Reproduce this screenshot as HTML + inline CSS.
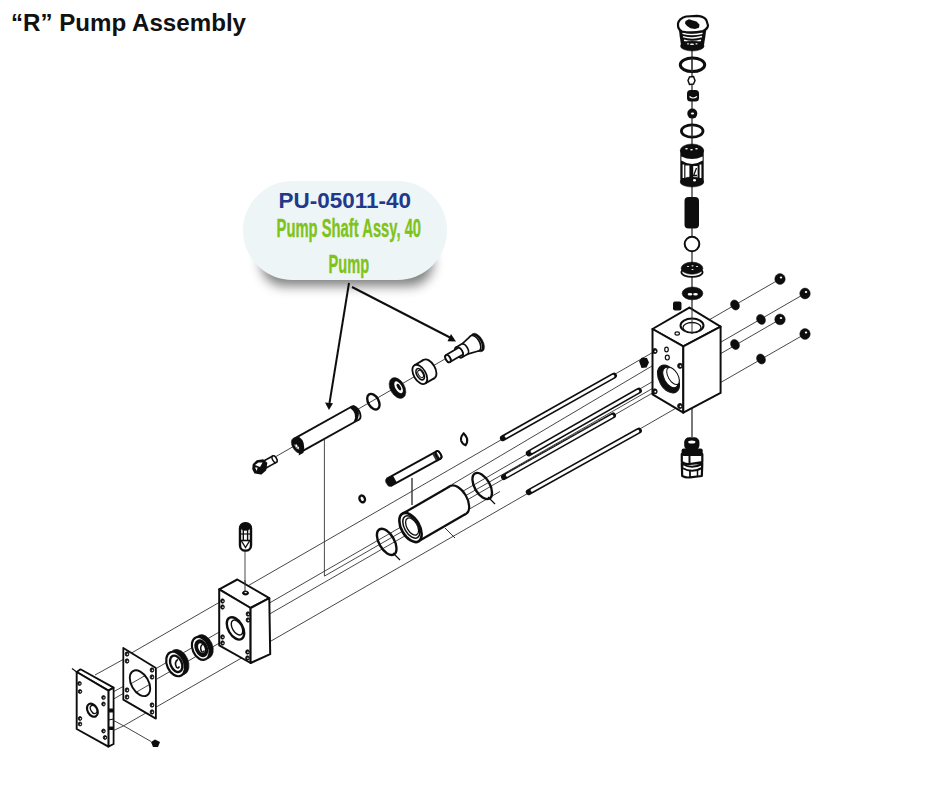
<!DOCTYPE html>
<html><head><meta charset="utf-8"><title>R Pump Assembly</title>
<style>html,body{margin:0;padding:0;background:#fff;}body{width:940px;height:788px;overflow:hidden;}svg{display:block;}</style>
</head><body>
<svg width="940" height="788" viewBox="0 0 940 788">
<defs><filter id="sh" x="-20%" y="-20%" width="140%" height="160%"><feGaussianBlur stdDeviation="6"/></filter><filter id="soft" x="0" y="0" width="100%" height="100%" filterUnits="userSpaceOnUse"><feGaussianBlur stdDeviation="0.35"/></filter></defs>
<rect width="940" height="788" fill="#fff"/>
<text x="11" y="31" font-family="Liberation Sans, sans-serif" font-weight="bold" font-size="23.5" fill="#111" textLength="235" lengthAdjust="spacingAndGlyphs">“R” Pump Assembly</text>
<g filter="url(#soft)">
<line x1="128" y1="655" x2="780" y2="279" stroke="#333" stroke-width="0.9" />
<line x1="157" y1="668" x2="805" y2="293.5" stroke="#333" stroke-width="0.9" />
<line x1="157" y1="679" x2="780" y2="319.4" stroke="#333" stroke-width="0.9" />
<line x1="123.6" y1="725.8" x2="805" y2="334" stroke="#333" stroke-width="0.9" />
<line x1="324.3" y1="576.2" x2="410" y2="527" stroke="#333" stroke-width="0.9" />
<line x1="458" y1="500" x2="669" y2="379" stroke="#333" stroke-width="0.9" />
<line x1="452" y1="484.5" x2="652" y2="366" stroke="#333" stroke-width="0.9" />
<line x1="466" y1="511" x2="500" y2="491.5" stroke="#333" stroke-width="0.9" />
<line x1="113" y1="692" x2="124" y2="686" stroke="#333" stroke-width="0.9" />
<line x1="113" y1="699.4" x2="124" y2="693" stroke="#333" stroke-width="0.9" />
<line x1="95" y1="675" x2="124" y2="659" stroke="#333" stroke-width="0.9" />
<line x1="263" y1="464" x2="464" y2="348" stroke="#333" stroke-width="0.9" />
<line x1="692" y1="45" x2="692" y2="437" stroke="#222" stroke-width="1.2" />
<line x1="324.4" y1="439.5" x2="324.4" y2="576" stroke="#333" stroke-width="0.9" />
<line x1="412" y1="478" x2="412" y2="505" stroke="#333" stroke-width="0.9" />
<line x1="245" y1="550" x2="245" y2="592" stroke="#333" stroke-width="0.9" />
</g>
<rect x="261" y="240" width="172" height="46" rx="23" fill="#000" opacity="0.5" filter="url(#sh)"/>
<rect x="243" y="181" width="204" height="99" rx="49.5" fill="#edf5f7"/>
<text x="278.6" y="208.3" font-family="Liberation Sans, sans-serif" font-weight="bold" font-size="22" fill="#22388a" textLength="132.3" lengthAdjust="spacingAndGlyphs">PU-05011-40</text>
<text x="276.6" y="236.8" font-family="Liberation Sans, sans-serif" font-weight="bold" font-size="26.5" fill="#7fc31a" stroke="#7fc31a" stroke-width="0.35" textLength="144.5" lengthAdjust="spacingAndGlyphs">Pump Shaft Assy, 40</text>
<text x="328.6" y="273" font-family="Liberation Sans, sans-serif" font-weight="bold" font-size="26.5" fill="#7fc31a" stroke="#7fc31a" stroke-width="0.35" textLength="40.6" lengthAdjust="spacingAndGlyphs">Pump</text>
<g filter="url(#soft)">
<g stroke="#111" stroke-width="2" fill="#111">
<line x1="349" y1="283" x2="329.5" y2="403"/>
<polygon points="329,410 325,402.5 333,403.2" stroke="none"/>
<line x1="352" y1="287" x2="450" y2="337.5"/>
<polygon points="456,341.5 447.5,341.3 451,334" stroke="none"/>
</g>
<ellipse cx="780" cy="279" rx="5.2" ry="5.4" fill="#111" stroke="#111" stroke-width="0.5" />
<ellipse cx="781" cy="277.5" rx="1.2" ry="1" fill="#fff" stroke="none" stroke-width="0" />
<ellipse cx="805" cy="293.5" rx="5.2" ry="5.4" fill="#111" stroke="#111" stroke-width="0.5" />
<ellipse cx="806" cy="292" rx="1.2" ry="1" fill="#fff" stroke="none" stroke-width="0" />
<ellipse cx="780" cy="319.4" rx="5.2" ry="5.4" fill="#111" stroke="#111" stroke-width="0.5" />
<ellipse cx="781" cy="317.9" rx="1.2" ry="1" fill="#fff" stroke="none" stroke-width="0" />
<ellipse cx="805" cy="334" rx="5.2" ry="5.4" fill="#111" stroke="#111" stroke-width="0.5" />
<ellipse cx="806" cy="332.5" rx="1.2" ry="1" fill="#fff" stroke="none" stroke-width="0" />
<ellipse cx="735" cy="305" rx="4.2" ry="5.2" fill="#111" stroke="#111" stroke-width="0.5" transform="rotate(-30 735 305)" />
<ellipse cx="761" cy="319.4" rx="4.2" ry="5.2" fill="#111" stroke="#111" stroke-width="0.5" transform="rotate(-30 761 319.4)" />
<ellipse cx="735" cy="344.5" rx="4.2" ry="5.2" fill="#111" stroke="#111" stroke-width="0.5" transform="rotate(-30 735 344.5)" />
<ellipse cx="761" cy="359" rx="4.2" ry="5.2" fill="#111" stroke="#111" stroke-width="0.5" transform="rotate(-30 761 359)" />
<polygon points="639,361 642,357.5 647,358 649,362.5 646.5,367.5 641.5,368 " fill="#111"/>
<polygon points="689.4,307.6 652.5,329 683.3,346.4 720.6,326.6" fill="#fff" stroke="#111" stroke-width="2" stroke-linejoin="round" />
<polygon points="652.5,329 683.3,346.4 683.3,412.7 652.5,394.4" fill="#fff" stroke="#111" stroke-width="2" stroke-linejoin="round" />
<polygon points="683.3,346.4 720.6,326.6 720.6,392.9 683.3,412.7" fill="#fff" stroke="#111" stroke-width="2" stroke-linejoin="round" />
<ellipse cx="692" cy="325.5" rx="11.5" ry="7" fill="#fff" stroke="#111" stroke-width="2" />
<ellipse cx="692" cy="327.5" rx="9" ry="5" fill="#fff" stroke="#111" stroke-width="1.3" />
<line x1="692" y1="308" x2="692" y2="334" stroke="#333" stroke-width="1" />
<ellipse cx="677.2" cy="333.5" rx="2.2" ry="1.6" fill="#fff" stroke="#111" stroke-width="1.2" />
<ellipse cx="668.5" cy="379" rx="9.3" ry="15.2" fill="#111" stroke="#111" stroke-width="1" transform="rotate(-30 668.5 379)" />
<ellipse cx="670.5" cy="377.5" rx="6.3" ry="11.2" fill="#fff" stroke="#111" stroke-width="1" transform="rotate(-30 670.5 377.5)" />
<ellipse cx="673" cy="376" rx="4.8" ry="9.5" fill="#fff" stroke="#111" stroke-width="1" transform="rotate(-30 673 376)" />
<ellipse cx="654.8" cy="351" rx="2.4" ry="2.6" fill="#111" stroke="#111" stroke-width="0.8" />
<ellipse cx="655.3" cy="351.3" rx="0.9" ry="0.9" fill="#fff" stroke="none" stroke-width="0" />
<ellipse cx="680" cy="365.8" rx="2.4" ry="2.6" fill="#111" stroke="#111" stroke-width="0.8" />
<ellipse cx="680.5" cy="366.1" rx="0.9" ry="0.9" fill="#fff" stroke="none" stroke-width="0" />
<ellipse cx="654.8" cy="391.4" rx="2.4" ry="2.6" fill="#111" stroke="#111" stroke-width="0.8" />
<ellipse cx="655.3" cy="391.7" rx="0.9" ry="0.9" fill="#fff" stroke="none" stroke-width="0" />
<ellipse cx="680" cy="406" rx="2.4" ry="2.6" fill="#111" stroke="#111" stroke-width="0.8" />
<ellipse cx="680.5" cy="406.3" rx="0.9" ry="0.9" fill="#fff" stroke="none" stroke-width="0" />
<ellipse cx="666.5" cy="349.5" rx="1.8" ry="2.4" fill="#fff" stroke="#111" stroke-width="1.2" />
<ellipse cx="667.3" cy="357.6" rx="2" ry="2.4" fill="#fff" stroke="#111" stroke-width="1.2" />
<path d="M681.8,463.5 L682.2,476 Q686,478 690,477.3 L701.8,476 L702.3,463.5 Z" fill="#fff" stroke="#111" stroke-width="2.2" stroke-linejoin="round"/>
<line x1="690" y1="469.5" x2="690" y2="477" stroke="#111" stroke-width="1.8" />
<line x1="697.5" y1="469.5" x2="697.5" y2="476.5" stroke="#111" stroke-width="1.5" />
<path d="M682.3,464 Q692,469.5 702,464 L702,468 Q692,473.5 682.3,468 Z" fill="#fff" stroke="#111" stroke-width="2"/>
<path d="M681.8,454 L681.8,462 Q686,464.8 689.5,464 L702.3,462 L702.3,454 Z" fill="#fff" stroke="#111" stroke-width="2.2" stroke-linejoin="round"/>
<line x1="689.5" y1="455" x2="689.5" y2="463.5" stroke="#111" stroke-width="2" />
<rect x="684.2" y="437.3" width="15.2" height="13" rx="5" fill="#111"/>
<rect x="681.6" y="448.5" width="21.1" height="7.5" rx="2" fill="#111"/>
<ellipse cx="691.8" cy="442" rx="3.6" ry="1.5" fill="#fff" stroke="none" stroke-width="0" />
<path d="M678.5,26 Q679.5,36 681,45 L704,45 Q705.5,36 706.8,26 Z" fill="#111"/>
<path d="M682.5,33.2 Q692,35.800000000000004 702.5,33.2" fill="none" stroke="#fff" stroke-width="1.5"/>
<path d="M683,36.6 Q692,39.2 702,36.6" fill="none" stroke="#fff" stroke-width="1.5"/>
<path d="M684,40.2 Q692,42.800000000000004 701,40.2" fill="none" stroke="#fff" stroke-width="1.5"/>
<path d="M678,23.5 Q679,18.5 686,16.5 L697,15.8 Q705,16.5 706.5,20.5 L708,25.5 Q707.5,29 703,31 Q692,33.5 682,31.5 Q677.5,29.5 678,23.5 Z" fill="#fff" stroke="#111" stroke-width="2.2" stroke-linejoin="round"/>
<path d="M685.5,21 L689,19.3 L693,20.5 L696.5,21.5 L699.5,24.5 L699,27.8 L695,29 L690.5,28.3 L687,26 L685,23.5 Z" fill="#111"/>
<ellipse cx="692.3" cy="46" rx="11.8" ry="5" fill="#111" stroke="#111" stroke-width="0.5" />
<ellipse cx="692" cy="44.2" rx="2.2" ry="0.8" fill="#fff" stroke="none" stroke-width="0" />
<ellipse cx="688" cy="43.8" rx="1.2" ry="0.6" fill="#fff" stroke="none" stroke-width="0" />
<ellipse cx="696.5" cy="43.8" rx="1.2" ry="0.6" fill="#fff" stroke="none" stroke-width="0" />
<ellipse cx="692.5" cy="64.8" rx="12.2" ry="6.8" fill="none" stroke="#111" stroke-width="3" />
<line x1="692" y1="58" x2="692" y2="72" stroke="#333" stroke-width="1" />
<polygon points="688,80.5 689.5,77 693.5,76.5 695,80.5 693.5,84 689.5,84.5" fill="#fff" stroke="#111" stroke-width="1.5"/>
<rect x="687" y="90" width="12" height="11.5" rx="3.5" fill="#111"/>
<path d="M689.5,96.5 Q693,99.5 697,96.5" fill="none" stroke="#fff" stroke-width="1.2"/>
<circle cx="692.3" cy="113.6" r="5" fill="#111"/>
<ellipse cx="692.5" cy="113.5" rx="1.6" ry="1.1" fill="#fff" stroke="none" stroke-width="0" />
<ellipse cx="692.2" cy="131" rx="10.8" ry="6.2" fill="none" stroke="#111" stroke-width="2.8" />
<line x1="692" y1="125" x2="692" y2="137" stroke="#333" stroke-width="1" />
<rect x="680.3" y="150" width="23.4" height="32" fill="#111"/>
<ellipse cx="692" cy="150.5" rx="11.7" ry="6.5" fill="#111" stroke="#111" stroke-width="0.5" />
<path d="M681.4,156.5 Q692,161.5 702.6,156.5 L702.6,160.5 Q692,167.5 681.4,160.5 Z" fill="#fff"/>
<rect x="682.6" y="164.5" width="1.6" height="13.5" fill="#fff"/>
<rect x="685.4" y="165.5" width="4.0" height="15.5" fill="#fff"/>
<rect x="693.2" y="166" width="4.4" height="15.0" fill="#fff"/>
<rect x="699.6" y="164.5" width="1.8" height="13.5" fill="#fff"/>
<path d="M696.5,168 L693.6,175.5 L697,175.5" fill="none" stroke="#111" stroke-width="1.3"/>
<ellipse cx="692" cy="182" rx="11.8" ry="5" fill="#111" stroke="#111" stroke-width="0.5" />
<ellipse cx="694.5" cy="180.3" rx="1.5" ry="1.2" fill="#fff" stroke="none" stroke-width="0" />
<ellipse cx="686.5" cy="148.8" rx="1.3" ry="0.7" fill="#fff" stroke="none" stroke-width="0" />
<ellipse cx="691.5" cy="149.8" rx="1.3" ry="0.7" fill="#fff" stroke="none" stroke-width="0" />
<ellipse cx="696.5" cy="148.8" rx="1.3" ry="0.7" fill="#fff" stroke="none" stroke-width="0" />
<rect x="684.5" y="197" width="14.5" height="31.5" rx="4" fill="#111"/>
<circle cx="692" cy="244" r="7.3" fill="#fff" stroke="#111" stroke-width="2"/>
<ellipse cx="692" cy="272.3" rx="10.6" ry="4.6" fill="#fff" stroke="#111" stroke-width="1.8" />
<ellipse cx="692" cy="268.2" rx="10.9" ry="6.1" fill="#111" stroke="#111" stroke-width="0.5" />
<ellipse cx="688" cy="266.5" rx="1.1" ry="0.6" fill="#fff" stroke="none" stroke-width="0" />
<ellipse cx="692.5" cy="265.8" rx="1.1" ry="0.6" fill="#fff" stroke="none" stroke-width="0" />
<ellipse cx="697" cy="266.5" rx="1.1" ry="0.6" fill="#fff" stroke="none" stroke-width="0" />
<ellipse cx="692.5" cy="269.5" rx="1.1" ry="0.6" fill="#fff" stroke="none" stroke-width="0" />
<ellipse cx="692.5" cy="293.4" rx="10.4" ry="6.4" fill="#111" stroke="#111" stroke-width="0.5" />
<ellipse cx="690" cy="294.3" rx="2.3" ry="1.3" fill="#fff" stroke="none" stroke-width="0" />
<ellipse cx="695.5" cy="294.3" rx="2.3" ry="1.3" fill="#fff" stroke="none" stroke-width="0" />
<rect x="673" y="301.5" width="8.5" height="9" rx="2" fill="#111"/>
<line x1="502.9" y1="438.2" x2="614" y2="375.6" stroke="#111" stroke-width="6" stroke-linecap="round"/>
<line x1="506.09999999999997" y1="436.4" x2="613" y2="376.20000000000005" stroke="#fff" stroke-width="2.8" stroke-linecap="round"/>
<line x1="528.8" y1="453.3" x2="638.9" y2="390.7" stroke="#111" stroke-width="6" stroke-linecap="round"/>
<line x1="532.0" y1="451.5" x2="637.9" y2="391.3" stroke="#fff" stroke-width="2.8" stroke-linecap="round"/>
<line x1="504" y1="477" x2="613" y2="415.5" stroke="#111" stroke-width="6" stroke-linecap="round"/>
<line x1="507.2" y1="475.2" x2="612" y2="416.1" stroke="#fff" stroke-width="2.8" stroke-linecap="round"/>
<line x1="528.8" y1="492.1" x2="638.9" y2="430.6" stroke="#111" stroke-width="6" stroke-linecap="round"/>
<line x1="532.0" y1="490.3" x2="637.9" y2="431.20000000000005" stroke="#fff" stroke-width="2.8" stroke-linecap="round"/>
<line x1="508" y1="472" x2="604" y2="418" stroke="#444" stroke-width="1.3" stroke-dasharray="1.5 1.2"/>
<ellipse cx="274.5" cy="459.2" rx="2" ry="3.6" fill="#fff" stroke="#111" stroke-width="1.6" transform="rotate(-28.7 274.5 459.2)" />
<polygon points="264.7,468.7 276.2,462.4 272.8,456 261.3,462.3" fill="#fff" stroke="none" stroke-width="0" stroke-linejoin="round" />
<line x1="264.7" y1="468.7" x2="276.2" y2="462.4" stroke="#111" stroke-width="1.6" />
<line x1="272.8" y1="456" x2="261.3" y2="462.3" stroke="#111" stroke-width="1.6" />
<ellipse cx="263" cy="465.5" rx="2" ry="3.6" fill="#fff" stroke="#111" stroke-width="1.6" transform="rotate(-28.7 263 465.5)" />
<ellipse cx="274.5" cy="459.2" rx="2" ry="3.6" fill="#fff" stroke="#111" stroke-width="1.4" transform="rotate(-29 274.5 459.2)" />
<polygon points="253.5,464.5 257,461 263,460 266.5,463 265.5,470 261,473.8 255,472.8 253,469" fill="#111" stroke="#111" stroke-width="1.6" stroke-linejoin="round"/>
<path d="M255,465 L258.5,462.5 L262.5,462.5 L260,467 Z" fill="#fff"/>
<path d="M255,467.5 L257.5,467.5 L256.8,471 Z" fill="#fff"/>
<ellipse cx="355.5" cy="413" rx="4.1" ry="7.4" fill="#fff" stroke="#111" stroke-width="1.9" transform="rotate(-29.1 355.5 413)" />
<polygon points="300.6,452.1 359.1,419.5 351.9,406.5 293.4,439.1" fill="#fff" stroke="none" stroke-width="0" stroke-linejoin="round" />
<line x1="300.6" y1="452.1" x2="359.1" y2="419.5" stroke="#111" stroke-width="1.9" />
<line x1="351.9" y1="406.5" x2="293.4" y2="439.1" stroke="#111" stroke-width="1.9" />
<ellipse cx="297" cy="445.6" rx="4.6" ry="8.2" fill="#111" stroke="#111" stroke-width="0.5" transform="rotate(-29.1 297 445.6)" />
<ellipse cx="296.4" cy="445.8" rx="1" ry="1.6" fill="#fff" stroke="none" stroke-width="0" transform="rotate(-29.1 296.4 445.8)" />
<ellipse cx="298.2" cy="447.8" rx="0.9" ry="1.2" fill="#fff" stroke="none" stroke-width="0" transform="rotate(-29.1 298.2 447.8)" />
<path d="M294.5,444.6 Q296,449.6 299.5,449.1" fill="none" stroke="#bbb" stroke-width="0.8"/>
<path d="M293.6,439.4 L298.7,436.6 Q306.5,442 303.3,452.9 L298.6,455.5 Q302,446 293.6,439.4 Z" fill="#111"/>
<path d="M349.5,407.5 L353.5,405.3 Q362,410 357.2,420.2 L353.4,422.4 Q358.5,414 349.5,407.5 Z" fill="#111"/>
<ellipse cx="373.4" cy="401.7" rx="5.2" ry="8.5" fill="none" stroke="#111" stroke-width="2.4" transform="rotate(-30 373.4 401.7)" />
<ellipse cx="397.5" cy="388" rx="7.2" ry="11.2" fill="#111" stroke="#111" stroke-width="0.5" transform="rotate(-30 397.5 388)" />
<ellipse cx="398.6" cy="387.3" rx="3.2" ry="6.6" fill="#fff" stroke="none" stroke-width="0" transform="rotate(-30 398.6 387.3)" />
<ellipse cx="398.9" cy="387.1" rx="1.6" ry="3.6" fill="#111" stroke="none" stroke-width="0" transform="rotate(-30 398.9 387.1)" />
<ellipse cx="429" cy="369" rx="6" ry="10.6" fill="#fff" stroke="#111" stroke-width="1.8" transform="rotate(-30.4 429 369)" />
<polygon points="425.2,383.5 434.4,378.1 423.6,359.9 414.4,365.3" fill="#fff" stroke="none" stroke-width="0" stroke-linejoin="round" />
<line x1="425.2" y1="383.5" x2="434.4" y2="378.1" stroke="#111" stroke-width="1.8" />
<line x1="423.6" y1="359.9" x2="414.4" y2="365.3" stroke="#111" stroke-width="1.8" />
<ellipse cx="419.8" cy="374.4" rx="6" ry="10.6" fill="#fff" stroke="#111" stroke-width="1.8" transform="rotate(-30.4 419.8 374.4)" />
<ellipse cx="420.2" cy="374.2" rx="3.4" ry="6.2" fill="#fff" stroke="#111" stroke-width="1.6" transform="rotate(-30.4 420.2 374.2)" />
<ellipse cx="420.6" cy="374" rx="2.2" ry="4" fill="none" stroke="#111" stroke-width="1.0" transform="rotate(-30.4 420.6 374)" />
<ellipse cx="477.5" cy="342.5" rx="5.5" ry="10.2" fill="#111" stroke="#111" stroke-width="0.5" transform="rotate(-30 477.5 342.5)" />
<ellipse cx="476.5" cy="343" rx="4.2" ry="8.2" fill="#fff" stroke="none" stroke-width="0" transform="rotate(-30 476.5 343)" />
<ellipse cx="475" cy="343.3" rx="4.7" ry="8.6" fill="#fff" stroke="#111" stroke-width="1.7" transform="rotate(-29.4 475 343.3)" />
<polygon points="466.7,354.4 479.2,350.8 470.8,335.8 461.3,344.6" fill="#fff" stroke="none" stroke-width="0" stroke-linejoin="round" />
<line x1="466.7" y1="354.4" x2="479.2" y2="350.8" stroke="#111" stroke-width="1.7" />
<line x1="470.8" y1="335.8" x2="461.3" y2="344.6" stroke="#111" stroke-width="1.7" />
<ellipse cx="464.5" cy="349.2" rx="3.2" ry="5.8" fill="#fff" stroke="#111" stroke-width="1.7" transform="rotate(-29.4 464.5 349.2)" />
<polygon points="461.8,357.4 467.3,354.3 461.7,344.1 456.2,347.2" fill="#fff" stroke="none" stroke-width="0" stroke-linejoin="round" />
<line x1="461.8" y1="357.4" x2="467.3" y2="354.3" stroke="#111" stroke-width="1.7" />
<line x1="461.7" y1="344.1" x2="456.2" y2="347.2" stroke="#111" stroke-width="1.7" />
<ellipse cx="459" cy="352.3" rx="3.2" ry="5.8" fill="#fff" stroke="#111" stroke-width="1.7" transform="rotate(-29.4 459 352.3)" />
<ellipse cx="459" cy="352.3" rx="3.2" ry="5.8" fill="#fff" stroke="#111" stroke-width="1.7" transform="rotate(-30 459 352.3)" />
<ellipse cx="460" cy="351.6" rx="2.2" ry="4" fill="#fff" stroke="#111" stroke-width="1.7" transform="rotate(-30.3 460 351.6)" />
<polygon points="450,362.1 462,355.1 458,348.1 446,355.1" fill="#fff" stroke="none" stroke-width="0" stroke-linejoin="round" />
<line x1="450" y1="362.1" x2="462" y2="355.1" stroke="#111" stroke-width="1.7" />
<line x1="458" y1="348.1" x2="446" y2="355.1" stroke="#111" stroke-width="1.7" />
<ellipse cx="448" cy="358.6" rx="2.2" ry="4" fill="#fff" stroke="#111" stroke-width="1.7" transform="rotate(-30.3 448 358.6)" />
<ellipse cx="448" cy="358.6" rx="2.2" ry="4" fill="#fff" stroke="#111" stroke-width="1.8" transform="rotate(-30 448 358.6)" />
<ellipse cx="438.5" cy="455" rx="2.3" ry="4.2" fill="#fff" stroke="#111" stroke-width="1.9" transform="rotate(-28.8 438.5 455)" />
<polygon points="390.5,486.2 440.5,458.7 436.5,451.3 386.5,478.8" fill="#fff" stroke="none" stroke-width="0" stroke-linejoin="round" />
<line x1="390.5" y1="486.2" x2="440.5" y2="458.7" stroke="#111" stroke-width="1.9" />
<line x1="436.5" y1="451.3" x2="386.5" y2="478.8" stroke="#111" stroke-width="1.9" />
<ellipse cx="388.5" cy="482.5" rx="2.3" ry="4.2" fill="#111" stroke="#111" stroke-width="0.5" transform="rotate(-28.8 388.5 482.5)" />
<path d="M386.2,478.8 L392.8,475.2 L396.8,482.5 L390.3,486.2 Z" fill="#111"/>
<path d="M432.5,454.5 L436.5,452.3 L440.5,459.5 L436.5,461.7 Z" fill="#111" opacity="0.85"/>
<ellipse cx="438.5" cy="455" rx="2.3" ry="4.2" fill="none" stroke="#111" stroke-width="1.8" transform="rotate(-29 438.5 455)" />
<ellipse cx="362.2" cy="498.9" rx="2.6" ry="3.5" fill="#fff" stroke="#111" stroke-width="2.4" transform="rotate(-25 362.2 498.9)" />
<path d="M463.6,433.4 Q460.2,437.2 461.2,440.8 Q462.6,444.4 465.6,445.2 Q467.9,442 467,438.4 Q465.6,435.2 463.6,433.4 Z" fill="#fff" stroke="#111" stroke-width="2.1"/>
<line x1="412" y1="478" x2="412" y2="505" stroke="#333" stroke-width="0.9" />
<ellipse cx="458" cy="500" rx="9" ry="16" fill="#fff" stroke="#111" stroke-width="2.2" transform="rotate(-30.1 458 500)" />
<polygon points="418.5,541.3 466,513.8 450,486.2 402.5,513.7" fill="#fff" stroke="none" stroke-width="0" stroke-linejoin="round" />
<line x1="418.5" y1="541.3" x2="466" y2="513.8" stroke="#111" stroke-width="2.2" />
<line x1="450" y1="486.2" x2="402.5" y2="513.7" stroke="#111" stroke-width="2.2" />
<ellipse cx="410.5" cy="527.5" rx="9" ry="16" fill="#fff" stroke="#111" stroke-width="2.6" transform="rotate(-30.1 410.5 527.5)" />
<ellipse cx="411.3" cy="527" rx="6.8" ry="12.3" fill="#fff" stroke="#111" stroke-width="1.5" transform="rotate(-30.1 411.3 527)" />
<ellipse cx="412.1" cy="526.5" rx="5.2" ry="9.4" fill="#fff" stroke="#111" stroke-width="1.3" transform="rotate(-30.1 412.1 526.5)" />
<line x1="445" y1="528" x2="455" y2="538" stroke="#333" stroke-width="1" />
<ellipse cx="386.7" cy="541.9" rx="7.6" ry="14.5" fill="none" stroke="#111" stroke-width="2.4" transform="rotate(-30 386.7 541.9)" />
<ellipse cx="482.2" cy="486" rx="7.6" ry="14.5" fill="none" stroke="#111" stroke-width="2.4" transform="rotate(-30 482.2 486)" />
<line x1="393" y1="553" x2="400" y2="560" stroke="#111" stroke-width="1.2" />
<line x1="488" y1="497" x2="495" y2="504" stroke="#111" stroke-width="1.2" />
<rect x="240" y="523.2" width="11" height="27.4" rx="5.2" fill="#fff" stroke="#111" stroke-width="2.4"/>
<ellipse cx="245.5" cy="526.8" rx="5.4" ry="3.8" fill="#111" stroke="#111" stroke-width="0.5" />
<line x1="243.3" y1="528" x2="243.3" y2="540" stroke="#111" stroke-width="1.4" />
<line x1="247.6" y1="528" x2="247.6" y2="540" stroke="#111" stroke-width="1.4" />
<line x1="241" y1="534" x2="250" y2="534" stroke="#111" stroke-width="1.2" />
<line x1="241" y1="540.5" x2="250" y2="540.5" stroke="#111" stroke-width="1.6" />
<path d="M241.5,541 L245.5,547.5 L249.5,541" fill="none" stroke="#111" stroke-width="1.4"/>
<polygon points="237.3,579.5 219.2,589.3 250.6,608 269.3,598.2" fill="#fff" stroke="#111" stroke-width="2" stroke-linejoin="round" />
<polygon points="219.2,589.3 250.6,608 250.6,663 219.2,645.3" fill="#fff" stroke="#111" stroke-width="2" stroke-linejoin="round" />
<polygon points="250.6,608 269.3,598.2 270.2,654.2 250.6,663" fill="#fff" stroke="#111" stroke-width="2" stroke-linejoin="round" />
<line x1="245" y1="580" x2="245" y2="591" stroke="#333" stroke-width="1" />
<ellipse cx="245.5" cy="593" rx="3" ry="2" fill="#111" stroke="#111" stroke-width="1" />
<ellipse cx="245.7" cy="592.6" rx="1.3" ry="0.7" fill="#fff" stroke="none" stroke-width="0" />
<ellipse cx="235.5" cy="628.4" rx="7.2" ry="12.2" fill="#fff" stroke="#111" stroke-width="2.4" transform="rotate(-30 235.5 628.4)" />
<ellipse cx="237" cy="627.5" rx="4.6" ry="8.3" fill="#fff" stroke="#111" stroke-width="1.4" transform="rotate(-30 237 627.5)" />
<ellipse cx="222.5" cy="601" rx="1.9" ry="2.2" fill="#111" stroke="#111" stroke-width="0.8" />
<ellipse cx="222.9" cy="601.3" rx="0.7" ry="0.8" fill="#fff" stroke="none" stroke-width="0" />
<ellipse cx="222.5" cy="607" rx="1.9" ry="2.2" fill="#111" stroke="#111" stroke-width="0.8" />
<ellipse cx="222.9" cy="607.3" rx="0.7" ry="0.8" fill="#fff" stroke="none" stroke-width="0" />
<ellipse cx="248" cy="614" rx="1.9" ry="2.2" fill="#111" stroke="#111" stroke-width="0.8" />
<ellipse cx="248.4" cy="614.3" rx="0.7" ry="0.8" fill="#fff" stroke="none" stroke-width="0" />
<ellipse cx="248" cy="620" rx="1.9" ry="2.2" fill="#111" stroke="#111" stroke-width="0.8" />
<ellipse cx="248.4" cy="620.3" rx="0.7" ry="0.8" fill="#fff" stroke="none" stroke-width="0" />
<ellipse cx="222.5" cy="637" rx="1.9" ry="2.2" fill="#111" stroke="#111" stroke-width="0.8" />
<ellipse cx="222.9" cy="637.3" rx="0.7" ry="0.8" fill="#fff" stroke="none" stroke-width="0" />
<ellipse cx="222.5" cy="643" rx="1.9" ry="2.2" fill="#111" stroke="#111" stroke-width="0.8" />
<ellipse cx="222.9" cy="643.3" rx="0.7" ry="0.8" fill="#fff" stroke="none" stroke-width="0" />
<ellipse cx="247.5" cy="652" rx="1.9" ry="2.2" fill="#111" stroke="#111" stroke-width="0.8" />
<ellipse cx="247.9" cy="652.3" rx="0.7" ry="0.8" fill="#fff" stroke="none" stroke-width="0" />
<ellipse cx="247.5" cy="658" rx="1.9" ry="2.2" fill="#111" stroke="#111" stroke-width="0.8" />
<ellipse cx="247.9" cy="658.3" rx="0.7" ry="0.8" fill="#fff" stroke="none" stroke-width="0" />
<ellipse cx="203.9" cy="646.7" rx="8.7" ry="12.6" fill="#111" stroke="#111" stroke-width="0.5" transform="rotate(-24 203.9 646.7)" />
<ellipse cx="200.7" cy="648.4" rx="8.1" ry="12" fill="#fff" stroke="#111" stroke-width="2.2" transform="rotate(-24 200.7 648.4)" />
<ellipse cx="201.3" cy="648.2" rx="5.3" ry="8.1" fill="#111" stroke="#111" stroke-width="2.4" transform="rotate(-24 201.3 648.2)" />
<ellipse cx="201.5" cy="648.1" rx="3" ry="5.1" fill="#fff" stroke="none" stroke-width="0" transform="rotate(-24 201.5 648.1)" />
<path d="M202.9,644.0 Q199.1,646.9 201.7,651.6 Q203.4,653.0 204.3,650.6" fill="none" stroke="#111" stroke-width="1.5"/>
<ellipse cx="179" cy="662.2" rx="9.3" ry="13.4" fill="#111" stroke="#111" stroke-width="0.5" transform="rotate(-24 179 662.2)" />
<ellipse cx="175.6" cy="664" rx="8.6" ry="12.8" fill="#fff" stroke="#111" stroke-width="2.2" transform="rotate(-24 175.6 664)" />
<ellipse cx="176.2" cy="663.8" rx="5.6" ry="8.6" fill="none" stroke="#111" stroke-width="2.4" transform="rotate(-24 176.2 663.8)" />
<ellipse cx="176.4" cy="663.7" rx="3.2" ry="5.4" fill="none" stroke="none" stroke-width="0" transform="rotate(-24 176.4 663.7)" />
<path d="M177.9,659.4 Q173.8,662.4 176.6,667.4 Q178.4,668.9 179.4,666.4" fill="none" stroke="#111" stroke-width="1.6"/>
<polygon points="123.3,648 155.9,667.9 155.9,718.6 123.3,699.6" fill="#fff" stroke="#111" stroke-width="1.8" stroke-linejoin="round" />
<clipPath id="gh"><ellipse cx="140" cy="683.2" rx="8.6" ry="14" transform="rotate(-30 140 683.2)"/></clipPath>
<g clip-path="url(#gh)">
<line x1="120" y1="690" x2="160" y2="667" stroke="#333" stroke-width="0.9" />
<line x1="120" y1="701.5" x2="160" y2="678.5" stroke="#333" stroke-width="0.9" />
</g>
<ellipse cx="140" cy="683.2" rx="8.6" ry="14" fill="none" stroke="#111" stroke-width="1.9" transform="rotate(-30 140 683.2)" />
<ellipse cx="127" cy="654" rx="1.9" ry="2.2" fill="#111" stroke="#111" stroke-width="0.8" />
<ellipse cx="127.4" cy="654.3" rx="0.7" ry="0.8" fill="#fff" stroke="none" stroke-width="0" />
<ellipse cx="127" cy="661" rx="1.9" ry="2.2" fill="#111" stroke="#111" stroke-width="0.8" />
<ellipse cx="127.4" cy="661.3" rx="0.7" ry="0.8" fill="#fff" stroke="none" stroke-width="0" />
<ellipse cx="152" cy="670" rx="1.9" ry="2.2" fill="#111" stroke="#111" stroke-width="0.8" />
<ellipse cx="152.4" cy="670.3" rx="0.7" ry="0.8" fill="#fff" stroke="none" stroke-width="0" />
<ellipse cx="152" cy="677" rx="1.9" ry="2.2" fill="#111" stroke="#111" stroke-width="0.8" />
<ellipse cx="152.4" cy="677.3" rx="0.7" ry="0.8" fill="#fff" stroke="none" stroke-width="0" />
<ellipse cx="127" cy="690" rx="1.9" ry="2.2" fill="#111" stroke="#111" stroke-width="0.8" />
<ellipse cx="127.4" cy="690.3" rx="0.7" ry="0.8" fill="#fff" stroke="none" stroke-width="0" />
<ellipse cx="127" cy="697" rx="1.9" ry="2.2" fill="#111" stroke="#111" stroke-width="0.8" />
<ellipse cx="127.4" cy="697.3" rx="0.7" ry="0.8" fill="#fff" stroke="none" stroke-width="0" />
<ellipse cx="152" cy="705" rx="1.9" ry="2.2" fill="#111" stroke="#111" stroke-width="0.8" />
<ellipse cx="152.4" cy="705.3" rx="0.7" ry="0.8" fill="#fff" stroke="none" stroke-width="0" />
<ellipse cx="152" cy="712" rx="1.9" ry="2.2" fill="#111" stroke="#111" stroke-width="0.8" />
<ellipse cx="152.4" cy="712.3" rx="0.7" ry="0.8" fill="#fff" stroke="none" stroke-width="0" />
<line x1="72" y1="668.5" x2="78" y2="673" stroke="#111" stroke-width="1.2" />
<polygon points="76.7,672 80.5,669.3 113.6,687.6 108.4,690.6" fill="#fff" stroke="#111" stroke-width="1.8" stroke-linejoin="round" />
<polygon points="108.4,690.6 113.6,687.6 113.6,744 108.4,746.6" fill="#fff" stroke="#111" stroke-width="1.8" stroke-linejoin="round" />
<polygon points="76.7,672 108.4,690.6 108.4,746.6 76.7,729" fill="#fff" stroke="#111" stroke-width="1.9" stroke-linejoin="round" />
<rect x="109" y="708.5" width="4" height="4" fill="#111"/>
<rect x="109" y="726.5" width="4" height="3.5" fill="#111"/>
<line x1="108.6" y1="720" x2="113.4" y2="719" stroke="#111" stroke-width="1.2" />
<ellipse cx="92.4" cy="710.2" rx="4.8" ry="7" fill="#fff" stroke="#111" stroke-width="2.2" transform="rotate(-30 92.4 710.2)" />
<ellipse cx="93.6" cy="709.4" rx="2.8" ry="4.4" fill="#fff" stroke="#111" stroke-width="1.3" transform="rotate(-30 93.6 709.4)" />
<ellipse cx="79.5" cy="683.5" rx="1.8" ry="2" fill="#111" stroke="#111" stroke-width="0.8" />
<ellipse cx="79.9" cy="683.8" rx="0.6" ry="0.7" fill="#fff" stroke="none" stroke-width="0" />
<ellipse cx="80" cy="691.5" rx="1.8" ry="2" fill="#111" stroke="#111" stroke-width="0.8" />
<ellipse cx="80.4" cy="691.8" rx="0.6" ry="0.7" fill="#fff" stroke="none" stroke-width="0" />
<ellipse cx="103.5" cy="697.5" rx="1.8" ry="2" fill="#111" stroke="#111" stroke-width="0.8" />
<ellipse cx="103.9" cy="697.8" rx="0.6" ry="0.7" fill="#fff" stroke="none" stroke-width="0" />
<ellipse cx="103.5" cy="704" rx="1.8" ry="2" fill="#111" stroke="#111" stroke-width="0.8" />
<ellipse cx="103.9" cy="704.3" rx="0.6" ry="0.7" fill="#fff" stroke="none" stroke-width="0" />
<ellipse cx="80" cy="718.5" rx="1.8" ry="2" fill="#111" stroke="#111" stroke-width="0.8" />
<ellipse cx="80.4" cy="718.8" rx="0.6" ry="0.7" fill="#fff" stroke="none" stroke-width="0" />
<ellipse cx="80" cy="724" rx="1.8" ry="2" fill="#111" stroke="#111" stroke-width="0.8" />
<ellipse cx="80.4" cy="724.3" rx="0.6" ry="0.7" fill="#fff" stroke="none" stroke-width="0" />
<ellipse cx="103.5" cy="731" rx="1.8" ry="2" fill="#111" stroke="#111" stroke-width="0.8" />
<ellipse cx="103.9" cy="731.3" rx="0.6" ry="0.7" fill="#fff" stroke="none" stroke-width="0" />
<ellipse cx="105" cy="737.5" rx="1.8" ry="2" fill="#111" stroke="#111" stroke-width="0.8" />
<ellipse cx="105.4" cy="737.8" rx="0.6" ry="0.7" fill="#fff" stroke="none" stroke-width="0" />
<line x1="113.6" y1="720.5" x2="123.6" y2="725.8" stroke="#333" stroke-width="0.9" />
<line x1="113.6" y1="730.5" x2="123.6" y2="725.8" stroke="#333" stroke-width="0.9" />
<line x1="123.6" y1="725.8" x2="151" y2="741.5" stroke="#333" stroke-width="0.9" />
<polygon points="151,742 155,739.5 160,742 158,747 153,747" fill="#111"/>
</g>
</svg>
</body></html>
